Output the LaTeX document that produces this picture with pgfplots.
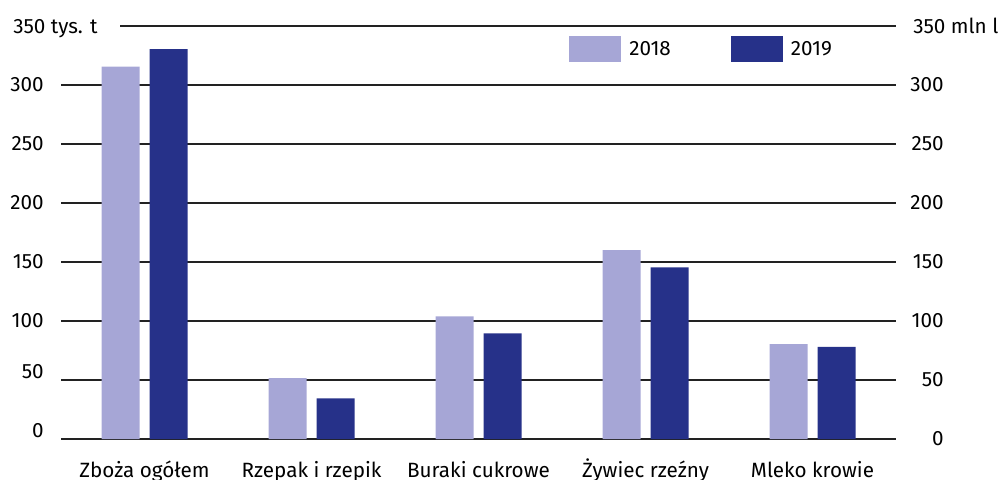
\documentclass[border=0pt]{standalone}
\usepackage{fontspec}
\setmainfont{Fira Sans}
\usepackage{pgfplots}
\pgfplotsset{compat=1.18}
\definecolor{c18}{HTML}{A6A6D6}
\definecolor{c19}{HTML}{263189}
\definecolor{gridc}{HTML}{222222}
\newcommand{\lblfont}{\fontsize{15.5}{18}\selectfont}
\begin{document}
\begin{tikzpicture}
\pgfplotsset{
  common/.style={
    scale only axis, width=626.25pt, height=309.75pt,
    xmin=-0.5, xmax=4.5, ymin=0, ymax=350,
    axis line style={draw=none}, major tick length=0pt,
    /pgf/number format/assume math mode=true,
    tick label style={font=\lblfont},
    at={(0,0)}, anchor=south west,
  }
}
\begin{axis}[common, name=ax,
  ybar, bar width=28.5pt,
  xtick={0,...,4},
  xticklabels={Zboża ogółem, Rzepak i rzepik, Buraki cukrowe, Żywiec rzeźny, Mleko krowie},
  xticklabel style={anchor=north, inner sep=0pt, text height=10.7pt, text depth=3pt, yshift=-18pt},
  ytick={100,150,...,300},
  extra y ticks={0,50},
  extra y tick style={grid=major, yticklabel style={yshift=6pt}},
  yticklabel style={anchor=east, inner sep=0pt, xshift=-12.75pt},
  ymajorgrids, grid style={gridc, line width=1.1pt},
  legend style={draw=none, fill=none, at={(rel axis cs:0,1)}, anchor=west,
    xshift=381pt, yshift=-17.25pt, inner sep=0pt,
    font=\lblfont,
    nodes={inner sep=0pt},
    /tikz/every odd column/.append style={column sep=6pt},
    /tikz/every even column/.append style={column sep=45pt}},
  legend columns=2,
  legend image code/.code={\fill[#1] (0pt,-9.75pt) rectangle (39pt,9.75pt);},
]
\addplot[fill=c18, draw=none, bar shift=-18pt] coordinates {(0,315.5) (1,51.5) (2,104) (3,160) (4,80.5)};
\addplot[fill=c19, draw=none, bar shift=18pt] coordinates {(0,330.5) (1,34.5) (2,89.5) (3,145.5) (4,78)};
\legend{2018,2019}
\end{axis}
\begin{axis}[common, hide x axis, ytick={0,50,...,300}, yticklabel pos=right,
  yticklabel style={anchor=east, inner sep=0pt, xshift=36pt}]
\addplot[draw=none] coordinates {(0,0)};
\end{axis}
\draw[gridc, line width=1.1pt] ([xshift=44.25pt]ax.north west) -- (ax.north east);
\node[anchor=base west, inner sep=0pt, font=\lblfont] at ([xshift=-36pt, yshift=-5.3pt]ax.north west) {350 tys. t};
\node[anchor=base west, inner sep=0pt, font=\lblfont] at ([xshift=12.75pt, yshift=-5.3pt]ax.north east) {350 mln l};
\pgfresetboundingbox
\path ([shift={(-45.75pt,-30pt)}]ax.south west) rectangle ([shift={(78.75pt,19.5pt)}]ax.north east);
\end{tikzpicture}
\end{document}
